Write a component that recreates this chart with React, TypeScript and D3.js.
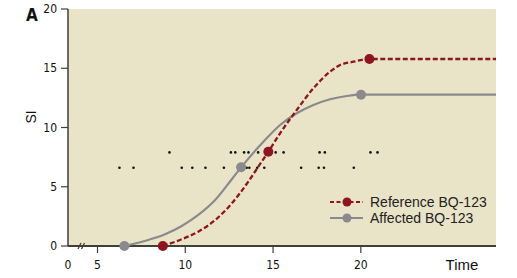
import React from "react";
import * as d3 from "d3";

// Curve traces (time, SI)
const referenceCurveTime = [8.72, 9.8, 10.74, 11.7, 12.65, 13.59, 14.16, 14.73, 15.4, 16.35, 17.3, 18.25, 18.82, 19.58, 20.49, 27.7];
const referenceCurveSI = [0, 0.57, 1.21, 2.19, 3.6, 5.43, 6.69, 7.95, 9.51, 11.48, 13.31, 14.71, 15.27, 15.55, 15.78, 15.78];
const affectedCurveTime = [6.53, 7.89, 8.85, 9.8, 10.74, 11.7, 12.65, 13.18, 14.45, 15.4, 16.35, 17.3, 18.25, 19.2, 20.01, 27.7];
const affectedCurveSI = [0, 0.51, 0.99, 1.69, 2.62, 3.88, 5.63, 6.64, 8.8, 10.21, 11.2, 11.9, 12.38, 12.66, 12.77, 12.77];

// Markers
const referenceMarkerTime = [8.72, 14.73, 20.49];
const referenceMarkerSI = [0, 7.95, 15.78];
const affectedMarkerTime = [6.53, 13.18, 20.01];
const affectedMarkerSI = [0, 6.64, 12.77];

const dotsUpperTime = [9.1, 12.6, 12.85, 13.35, 13.6, 14.15, 14.9, 15.15, 15.6, 17.65, 17.95, 20.55, 20.95];
const dotsUpperSI = 7.9;
const dotsLowerTime = [6.25, 7.05, 9.8, 10.4, 11.15, 12.2, 13.5, 13.65, 14.1, 14.5, 16.6, 17.6, 17.9, 19.6];
const dotsLowerSI = 6.6;

const yTicks = [0, 5, 10, 15, 20];
const xTicks = [5, 10, 15, 20];
const seriesNames = ["Reference BQ-123", "Affected BQ-123"];

const W = 517, H = 278;
const left = 68, right = 496, top = 9, bottom = 246;
const RED = "#8e1520";
const GRAY = "#8a8a8c";
const BG = "#e9e4c8";
const AXIS = "#3f3f38";
const narrow = "'Liberation Sans Narrow', 'Arial Narrow', 'DejaVu Sans Condensed', sans-serif";
const sans = "'Liberation Sans', Arial, sans-serif";

export default function App() {
  const x = d3.scaleLinear().domain([5, 27.7]).range([97.5, right]);
  const y = d3.scaleLinear().domain([0, 20]).range([bottom, top]);
  const line = d3
    .line<[number, number]>()
    .x((d) => x(d[0]))
    .y((d) => y(d[1]))
    .curve(d3.curveMonotoneX);
  const refPts: [number, number][] = referenceCurveTime.map((t, i) => [t, referenceCurveSI[i]]);
  const affPts: [number, number][] = affectedCurveTime.map((t, i) => [t, affectedCurveSI[i]]);
  const refMarks = referenceMarkerTime.map((t, i) => [t, referenceMarkerSI[i]]);
  const affMarks = affectedMarkerTime.map((t, i) => [t, affectedMarkerSI[i]]);

  return (
    <div style={{ position: "absolute", left: 0, top: 0 }}>
      <svg width={W} height={H} style={{ display: "block" }}>
        <rect x={left} y={top} width={right - left} height={bottom - top} fill={BG} />
        {/* y axis */}
        <line x1={left} x2={left} y1={top} y2={bottom} stroke={AXIS} strokeWidth={1.5} />
        {yTicks.map((v) => (
          <g key={v}>
            <line x1={left - 7} x2={left} y1={y(v)} y2={y(v)} stroke={AXIS} strokeWidth={1.2} />
            <text x={left - 11} y={y(v)} dy="0.35em" textAnchor="end" fontFamily={narrow} fontSize={12} fill="#111">
              {v}
            </text>
          </g>
        ))}
        {/* x axis */}
        <line x1={left} x2={right} y1={bottom} y2={bottom} stroke={AXIS} strokeWidth={2.2} />
        {xTicks.map((v) => (
          <g key={v}>
            <line x1={x(v)} x2={x(v)} y1={bottom} y2={bottom + 7} stroke={AXIS} strokeWidth={1.2} />
            <text x={x(v)} y={265} dy="0.35em" textAnchor="middle" fontFamily={narrow} fontSize={12} fill="#111">
              {v}
            </text>
          </g>
        ))}
        <text x={left} y={265} dy="0.35em" textAnchor="middle" fontFamily={narrow} fontSize={12} fill="#111">
          0
        </text>
        {/* axis break */}
        <g stroke={AXIS} strokeWidth={1.2}>
          <line x1={78} x2={81} y1={249} y2={243} />
          <line x1={81.5} x2={84.5} y1={249} y2={243} />
        </g>
        <text x={462} y={265} dy="0.35em" textAnchor="middle" fontFamily={sans} fontSize={15} fill="#111">
          Time
        </text>
        <text transform={`translate(31,117) rotate(-90)`} textAnchor="middle" dy="0.35em" fontFamily={sans} fontSize={14} fill="#111">
          SI
        </text>
        <text x={32} y={15} dy="0.35em" textAnchor="middle" fontFamily={narrow} fontWeight="bold" fontSize={17} fill="#111">
          A
        </text>
        {/* dots */}
        {dotsUpperTime.map((t, i) => (
          <circle key={"u" + i} cx={x(t)} cy={y(dotsUpperSI)} r={1.3} fill="#111" />
        ))}
        {dotsLowerTime.map((t, i) => (
          <circle key={"l" + i} cx={x(t)} cy={y(dotsLowerSI)} r={1.3} fill="#111" />
        ))}
        {/* curves */}
        <path d={line(affPts) || ""} fill="none" stroke={GRAY} strokeWidth={2.2} />
        <path d={line(refPts) || ""} fill="none" stroke={RED} strokeWidth={2.3} strokeDasharray="5,2.5" />
        {affMarks.map((p, i) => (
          <circle key={"a" + i} cx={x(p[0])} cy={y(p[1])} r={5} fill={GRAY} />
        ))}
        {refMarks.map((p, i) => (
          <circle key={"r" + i} cx={x(p[0])} cy={y(p[1])} r={5} fill={RED} />
        ))}
        {/* legend */}
        {seriesNames.map((name, i) => {
          const ly = 202 + i * 16;
          const color = i === 0 ? RED : GRAY;
          return (
            <g key={name}>
              <line x1={330} x2={363} y1={ly} y2={ly} stroke={color} strokeWidth={2.2} strokeDasharray={i === 0 ? "4,2.5" : undefined} />
              <circle cx={347} cy={ly} r={4.5} fill={color} />
              <text x={370} y={ly} dy="0.35em" fontFamily={sans} fontSize={14} fill="#222">
                {name}
              </text>
            </g>
          );
        })}
      </svg>
    </div>
  );
}
